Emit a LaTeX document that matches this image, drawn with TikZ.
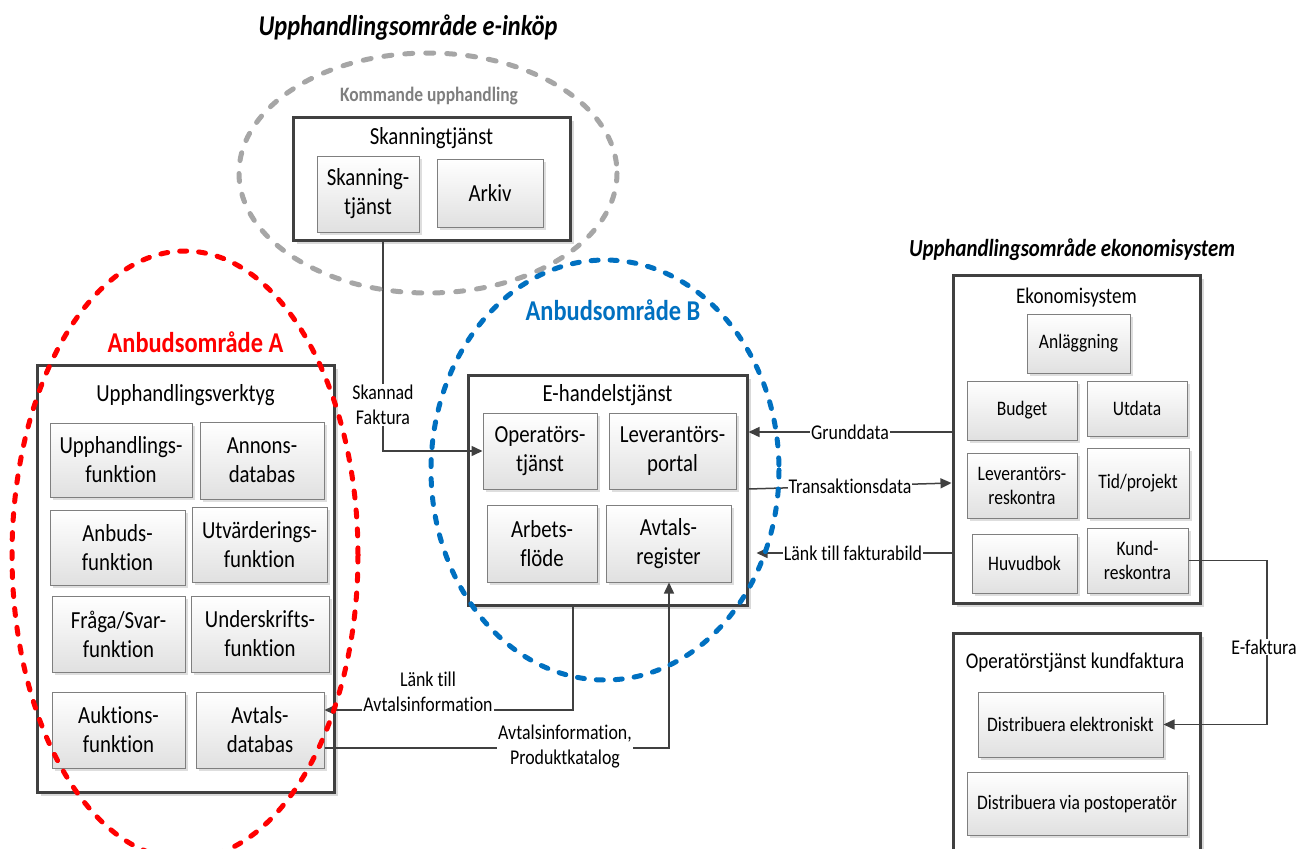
\documentclass[tikz,border=0pt]{standalone}
\usepackage{fontspec}
\setmainfont{Carlito}[FakeStretch=0.85, Ligatures=NoCommon]
\usetikzlibrary{arrows.meta,shadows}
\definecolor{dk}{HTML}{404040}
\definecolor{inb}{HTML}{7F7F7F}
\definecolor{kgray}{HTML}{7F7F7F}
\definecolor{ellgray}{HTML}{A6A6A6}
\definecolor{ellred}{HTML}{FF0000}
\definecolor{ellblue}{HTML}{0070C0}
\newcommand\fsMain{\fontsize{24.5}{29}\selectfont}
\newcommand\fsEko{\fontsize{20.6}{24}\selectfont}
\newcommand\fsEkoT{\fontsize{22.4}{26}\selectfont}
\newcommand\fsLbl{\fontsize{21}{25}\selectfont}
\newcommand\fsTitle{\fontsize{28.6}{33}\selectfont}
\newcommand\fsTitleB{\fontsize{24.5}{29}\selectfont}
\newcommand\fsArea{\fontsize{28.7}{33}\selectfont}
\newcommand\fsKom{\fontsize{20.5}{24}\selectfont}
\begin{document}
\begin{tikzpicture}[x=1pt,y=-1pt,
  outbox/.style={draw=dk, line width=3pt, fill=white, inner sep=0pt,
    drop shadow={shadow xshift=4pt, shadow yshift=-4pt, fill=black!25, opacity=0.6}},
  inbox/.style={draw=inb, line width=1pt, top color=white, bottom color=black!12,
    inner sep=1pt, align=center,
    drop shadow={shadow xshift=3pt, shadow yshift=-3pt, fill=black!25, opacity=0.5}},
  lbox/.style={inbox, font=\fsMain},
  ebox/.style={inbox, font=\fsEko},
  ttl/.style={inner sep=0pt, align=center},
  lbl/.style={fill=white, inner sep=1pt, align=center, font=\fsLbl},
  conn/.style={draw=dk, line width=1.5pt, -{Triangle[length=11pt,width=10pt]}},
  ell/.style={line width=5pt, line cap=round, dash pattern=on 7pt off 12pt}
]
\useasboundingbox (0,0) rectangle (1302,849);

% ---------- titles ----------
\node[ttl, font=\fsTitle\bfseries\itshape] (t1) at (408,28) {Upphandlingsområde e-inköp};
\node[ttl, font=\fsTitleB\bfseries\itshape] (t3) at (1072,250) {Upphandlingsområde ekonomisystem};
\node[ttl, font=\fsKom\bfseries, text=kgray] (t2) at (429,96) {Kommande upphandling};
\node[ttl, font=\fsArea\bfseries, text=ellred] (t4) at (195.5,342) {Anbudsområde A};
\node[ttl, font=\fsArea\bfseries, text=ellblue] (t5) at (613,310) {Anbudsområde B};

% ---------- Skanningtjänst ----------
\node[outbox, minimum width=277, minimum height=123] (sk) at (431.5,178.5) {};
\node[ttl, font=\fsMain] (skT) at (431.5,138) {Skanningtjänst};
\node[lbox, minimum width=102, minimum height=76] (sk1) at (368,194) {Skanning-\\tjänst};
\node[lbox, minimum width=106, minimum height=68] (ark) at (490,193) {Arkiv};

% ---------- Upphandlingsverktyg ----------
\node[outbox, minimum width=297, minimum height=427] (upv) at (185.5,578.5) {};
\node[ttl, font=\fsMain] (upvT) at (185.5,395) {Upphandlingsverktyg};
\node[lbox, minimum width=142, minimum height=74] (upf) at (121,460) {Upphandlings-\\funktion};
\node[lbox, minimum width=124, minimum height=77] (ann) at (262,460.5) {Annons-\\databas};
\node[lbox, minimum width=135, minimum height=75] (anb) at (117.5,547.5) {Anbuds-\\funktion};
\node[lbox, minimum width=135, minimum height=75] (utv) at (259.5,544.5) {Utvärderings-\\funktion};
\node[lbox, minimum width=133, minimum height=76] (fsv) at (118.5,634) {Fråga/Svar-\\funktion};
\node[lbox, minimum width=138, minimum height=76] (und) at (260,634) {Underskrifts-\\funktion};
\node[lbox, minimum width=133, minimum height=76] (auk) at (118.5,730) {Auktions-\\funktion};
\node[lbox, minimum width=128, minimum height=76] (avd) at (260,730) {Avtals-\\databas};

% ---------- E-handelstjänst ----------
\node[outbox, minimum width=279, minimum height=230] (eh) at (607.5,490) {};
\node[ttl, font=\fsMain] (ehT) at (607.5,395) {E-handelstjänst};
\node[lbox, minimum width=114, minimum height=76] (opt) at (540,451) {Operatörs-\\tjänst};
\node[lbox, minimum width=127, minimum height=76] (lev) at (672.5,451) {Leverantörs-\\portal};
\node[lbox, minimum width=110, minimum height=77] (arb) at (542,543.5) {Arbets-\\flöde};
\node[lbox, minimum width=125, minimum height=77] (avr) at (668.5,543.5) {Avtals-\\register};

% ---------- Ekonomisystem ----------
\node[outbox, minimum width=247, minimum height=328] (eko) at (1076.5,439) {};
\node[ttl, font=\fsEkoT] (ekoT) at (1076.5,298) {Ekonomisystem};
\node[ebox, minimum width=103, minimum height=59] (anl) at (1078.5,343.5) {Anläggning};
\node[ebox, minimum width=110, minimum height=59] (bud) at (1022,410.5) {Budget};
\node[ebox, minimum width=100, minimum height=55] (utd) at (1137,408.5) {Utdata};
\node[ebox, minimum width=110, minimum height=65] (lrk) at (1022,485.5) {Leverantörs-\\reskontra};
\node[ebox, minimum width=102, minimum height=70] (tid) at (1138,483) {Tid/projekt};
\node[ebox, minimum width=105, minimum height=59] (huv) at (1024.5,563.5) {Huvudbok};
\node[ebox, minimum width=101, minimum height=65] (krk) at (1137.5,560.5) {Kund-\\reskontra};

% ---------- Operatörstjänst kundfaktura ----------
\node[outbox, minimum width=247, minimum height=250] (opk) at (1076.5,758) {};
\node[ttl, font=\fsEkoT] (opkT) at (1075,663) {Operatörstjänst kundfaktura};
\node[ebox, minimum width=185, minimum height=65] (de) at (1070.5,724.5) {Distribuera elektroniskt};
\node[ebox, minimum width=220, minimum height=63] (dp) at (1077,803.5) {Distribuera via postoperatör};

% ---------- connectors ----------
\coordinate (c1) at (383,451);
\draw[conn] (sk.south -| c1) |- (opt.west);
\node[lbl] (l1) at (383,405) {Skannad\\Faktura};

\coordinate (c2) at (573,710);
\draw[conn] (eh.south -| c2) |- (avd.east |- c2);
\node[lbl] (l2) at (428,692) {Länk till\\Avtalsinformation};

\coordinate (c3) at (669,748);
\draw[conn] (avd.east |- c3) -| (avr.south -| c3);
\node[lbl] (l3) at (565,747) {Avtalsinformation,\\Produktkatalog};

\coordinate (c4) at (850,432);
\draw[conn] (eko.west |- c4) -- (eh.east |- c4);
\node[lbl] (l4) at (850,432) {Grunddata};

\coordinate (c5a) at (700,489);
\coordinate (c5b) at (900,483);
\draw[conn] (eh.east |- c5a) -- (eko.west |- c5b);
\node[lbl] (l5) at (850,486) {Transaktionsdata};

\coordinate (c6) at (850,553);
\draw[conn, shorten >=8pt] (eko.west |- c6) -- (eh.east |- c6);
\node[lbl] (l6) at (853,553) {Länk till fakturabild};

\coordinate (c7) at (1267,600);
\draw[conn] (krk.east) -| (c7) |- (de.east);
\node[lbl] (l7) at (1264,647) {E-faktura};

% ---------- ellipses ----------
\draw[ell, draw=ellgray, dash pattern=on 8pt off 13pt] (428,173) ellipse [x radius=189, y radius=120];
\draw[ell, draw=ellred] (185,555) ellipse [x radius=173, y radius=304];
\draw[ell, draw=ellblue] (605,470) ellipse [x radius=174, y radius=210];
\end{tikzpicture}
\end{document}
